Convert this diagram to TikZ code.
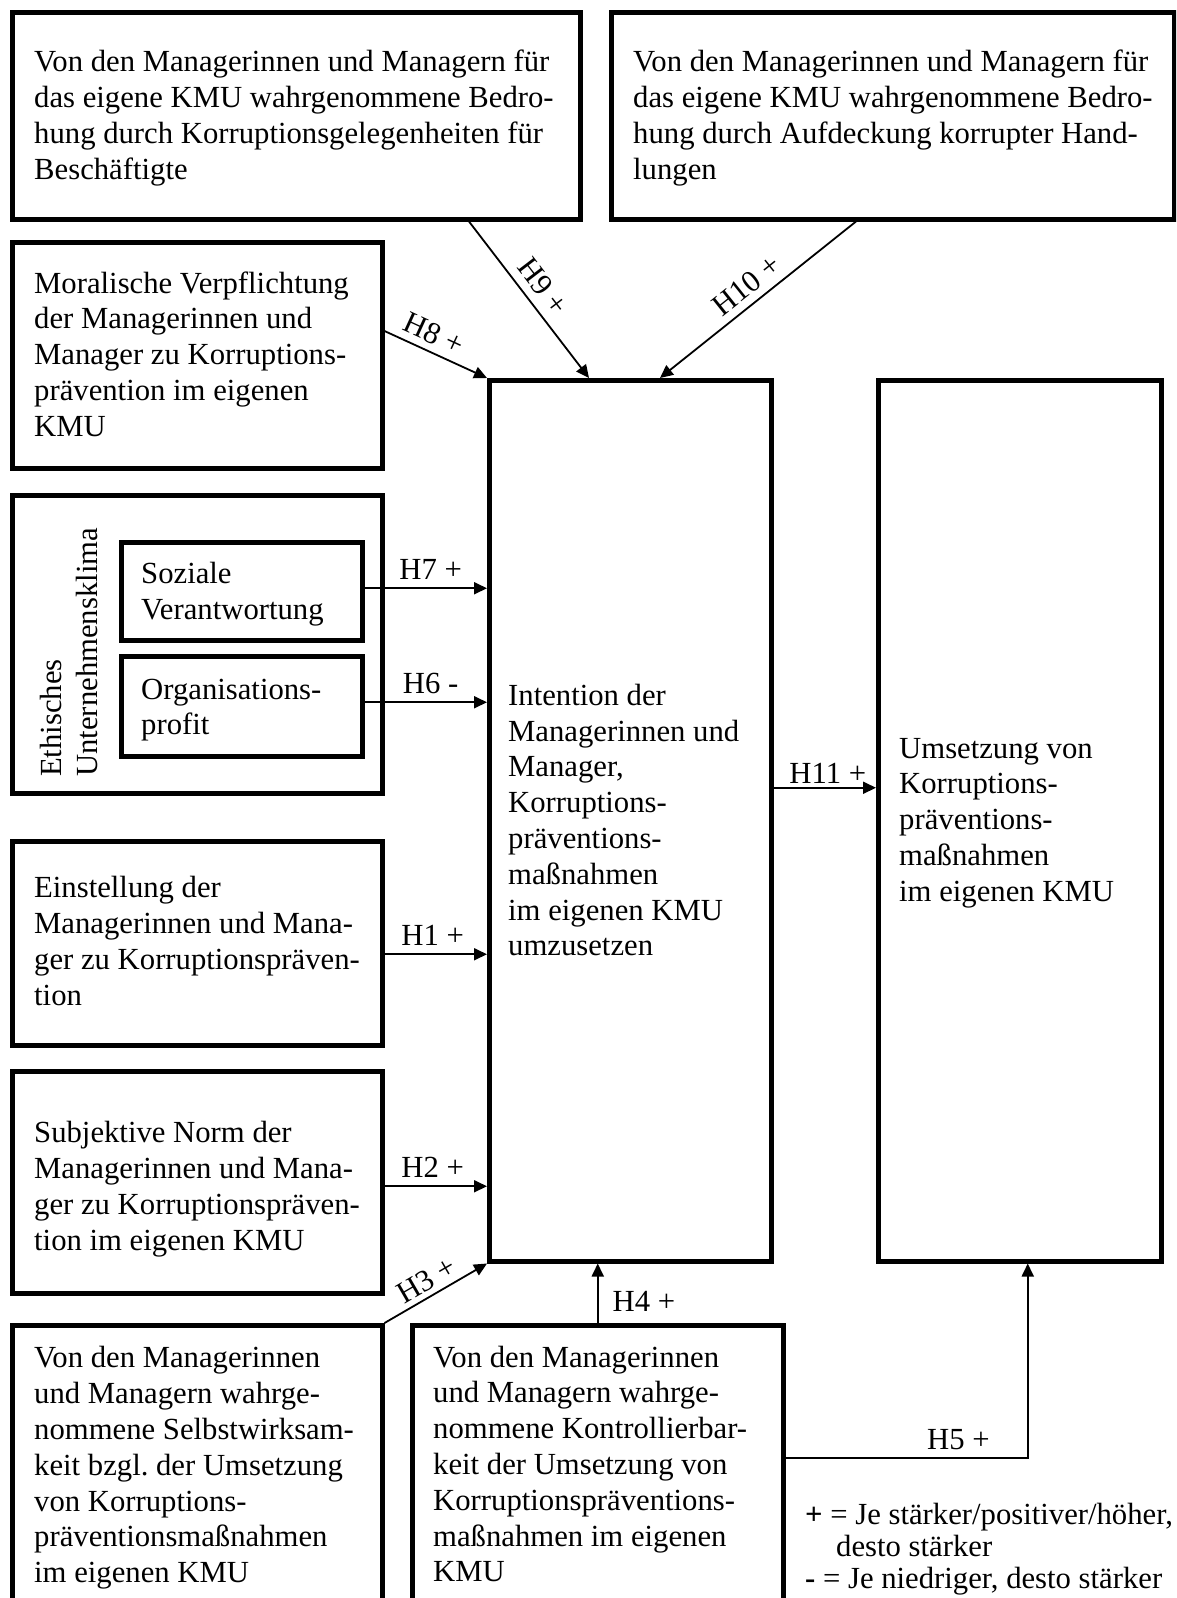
\documentclass[tikz,border=0pt]{standalone}
\usepackage{fontspec}
\setmainfont{Liberation Serif}
\usetikzlibrary{arrows.meta}
\begin{document}
\frenchspacing
\begin{tikzpicture}[x=1pt,y=-1pt,
  font=\fontsize{30.7}{35.8}\selectfont,
  box/.style={draw, line width=4.5pt, anchor=north west, inner sep=0pt},
  txt/.style={anchor=west, inner sep=0pt, align=left},
  arr/.style={line width=1.8pt, -{Triangle[length=13pt,width=12pt]}},
  lbl/.style={inner sep=3pt},
]
\clip (0,0) rectangle (1176,1598);
\fill[white] (0,0) rectangle (1176,1598);

% threat boxes on top
\node[box, minimum width=568pt, minimum height=207pt] (thrA) at (10,10) {};
\node[txt] (thrA-t) at (34,118) {Von den Managerinnen und Managern für\\das eigene KMU wahrgenommene Bedro-\\hung durch Korruptionsgelegenheiten für\\Beschäftigte};
\node[box, minimum width=563pt, minimum height=207pt] (thrB) at (609,10) {};
\node[txt] (thrB-t) at (633,118) {Von den Managerinnen und Managern für\\das eigene KMU wahrgenommene Bedro-\\hung durch Aufdeckung korrupter Hand-\\lungen};

% left column
\node[box, minimum width=370pt, minimum height=226pt] (moral) at (10,240) {};
\node[txt] (moral-t) at (34,354) {Moralische Verpflichtung\\der Managerinnen und\\Manager zu Korruptions-\\prävention im eigenen\\KMU};

\node[box, minimum width=370pt, minimum height=298pt] (eth) at (10,493) {};
\node[anchor=north west, inner sep=0pt, align=left, rotate=90] (eth-t) at (40,777) {Ethisches\\Unternehmensklima};
\node[box, minimum width=241pt, minimum height=98pt] (soz) at (119,540) {};
\node[txt] (soz-t) at (141,594) {Soziale\\Verantwortung};
\node[box, minimum width=241pt, minimum height=100pt] (org) at (119,654) {};
\node[txt] (org-t) at (141,710) {Organisations-\\profit};

\node[box, minimum width=370pt, minimum height=204pt] (einst) at (10,839) {};
\node[txt] (einst-t) at (34,941) {Einstellung der\\Managerinnen und Mana-\\ger zu Korruptionspräven-\\tion};

\node[box, minimum width=370pt, minimum height=222pt] (subj) at (10,1069) {};
\node[txt] (subj-t) at (34,1189) {Subjektive Norm der\\Managerinnen und Mana-\\ger zu Korruptionspräven-\\tion im eigenen KMU};

% bottom boxes
\node[box, minimum width=370pt, minimum height=290pt] (selbst) at (10,1323) {};
\node[txt] (selbst-t) at (34,1468) {Von den Managerinnen\\und Managern wahrge-\\nommene Selbstwirksam-\\keit bzgl. der Umsetzung\\von Korruptions-\\präventionsmaßnahmen\\im eigenen KMU};
\node[box, minimum width=371pt, minimum height=290pt] (kontr) at (410,1323) {};
\node[txt] (kontr-t) at (433,1464) {Von den Managerinnen\\und Managern wahrge-\\nommene Kontrollierbar-\\keit der Umsetzung von\\Korruptionspräventions-\\maßnahmen im eigenen\\KMU};

% central boxes
\node[box, minimum width=282pt, minimum height=881pt] (intent) at (487,378) {};
\node[txt] (intent-t) at (508,820) {Intention der\\Managerinnen und\\Manager,\\Korruptions-\\präventions-\\maßnahmen\\im eigenen KMU\\umzusetzen};
\node[box, minimum width=283pt, minimum height=881pt] (umsetz) at (876,378) {};
\node[txt] (umsetz-t) at (899,823) {Umsetzung von\\Korruptions-\\präventions-\\maßnahmen\\im eigenen KMU};

% hypotheses
\draw[arr] ([xshift=459pt]thrA.south west) -- node[lbl, sloped, above=5pt, pos=.49] {H9 +} ([xshift=102pt]intent.north west);
\draw[arr] ([xshift=247pt]thrB.south west) -- node[lbl, sloped, above=4pt, pos=.5] {H10 +} ([xshift=173pt]intent.north west);
\draw[arr] ([yshift=-91pt]moral.north east) -- node[lbl, sloped, above=4pt, pos=.41] {H8 +} (intent.north west);
\draw[arr] ([yshift=3pt]soz.east) -- node[lbl, above=4.5pt, pos=.54] {H7 +} ([yshift=3pt]soz.east -| intent.west);
\draw[arr] ([yshift=4pt]org.east) -- node[lbl, above=4.5pt, pos=.54] {H6 -} ([yshift=4pt]org.east -| intent.west);
\draw[arr] ([yshift=-11pt]einst.east) -- node[lbl, above=4.5pt, pos=.47] {H1 +} ([yshift=-11pt]einst.east -| intent.west);
\draw[arr] ([yshift=-4pt]subj.east) -- node[lbl, above=4.5pt, pos=.47] {H2 +} ([yshift=-4pt]subj.east -| intent.west);
\draw[arr] (selbst.north east) -- node[lbl, sloped, above=2pt, pos=.49] {H3 +} (intent.south west);
\draw[arr] (kontr.north) -- node[lbl, right=11pt, pos=.36] {H4 +} (intent.south -| kontr.north);
\draw[arr] ([yshift=-135pt]kontr.north east) -| node[lbl, above=4.5pt, pos=.357] {H5 +} ([xshift=8pt]umsetz.south);
\draw[arr] ([yshift=33pt]intent.east) -- node[lbl, above=0pt, pos=.53] {H11 +} ([yshift=33pt]intent.east -| umsetz.west);

% legend
\node[anchor=north west, inner sep=0pt, align=left, font=\fontsize{30.7}{32}\selectfont] (legend) at (805,1503) {\textbf{+} = Je stärker/positiver/höher,\\\hspace*{31pt}desto stärker\\\textbf{-} = Je niedriger, desto stärker};
\end{tikzpicture}
\end{document}
